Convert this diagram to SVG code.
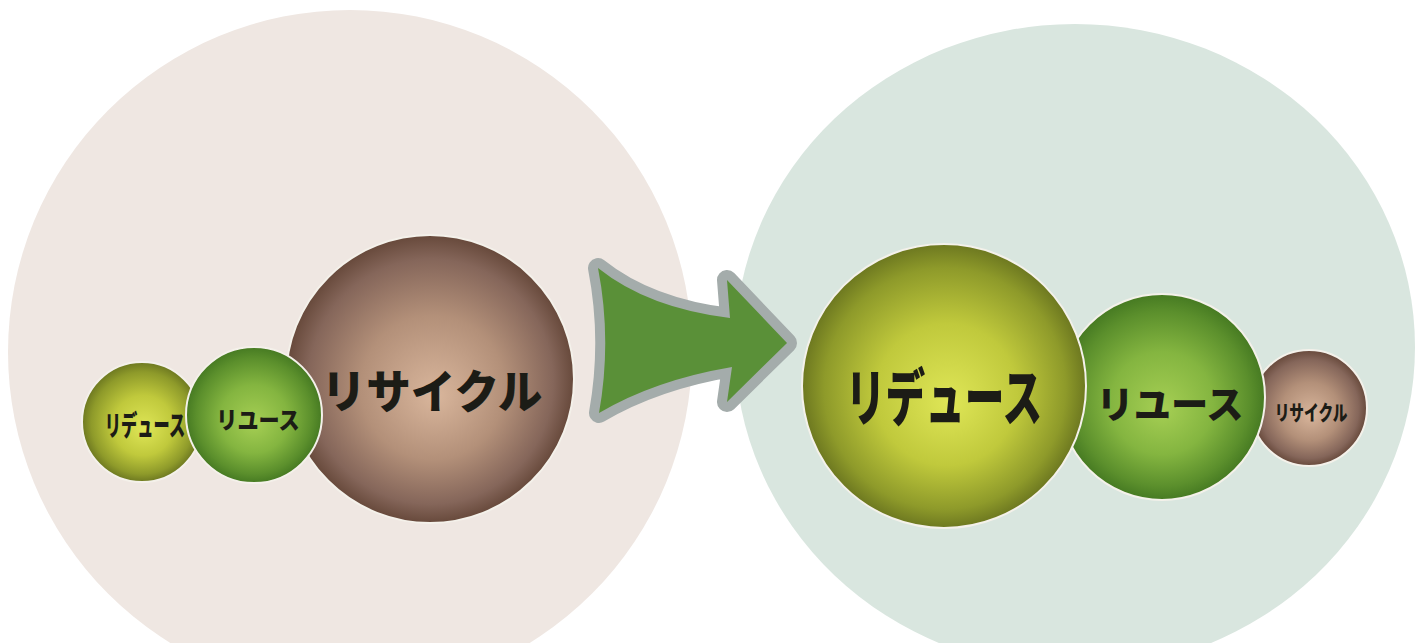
<svg xmlns="http://www.w3.org/2000/svg" width="1424" height="643" viewBox="0 0 1424 643">
<defs>
<style>
.lbl{font-family:"Noto Sans CJK JP","Noto Sans CJK SC",sans-serif;font-weight:900;fill:#1c1c16;text-anchor:middle;dominant-baseline:central}
.sph{stroke:#f4f1ea;stroke-width:2}
</style>
<radialGradient id="gYel" cx="0.5" cy="0.5" r="0.5" fx="0.52" fy="0.56">
<stop offset="0" stop-color="#dfe657"/>
<stop offset="0.5" stop-color="#c0c93c"/>
<stop offset="0.85" stop-color="#8e9a2a"/>
<stop offset="1" stop-color="#6d7820"/>
</radialGradient>
<radialGradient id="gGrn" cx="0.5" cy="0.5" r="0.5" fx="0.5" fy="0.56">
<stop offset="0" stop-color="#a6cf54"/>
<stop offset="0.5" stop-color="#84b540"/>
<stop offset="0.85" stop-color="#5b8f2c"/>
<stop offset="1" stop-color="#467a22"/>
</radialGradient>
<radialGradient id="gBrn" cx="0.5" cy="0.5" r="0.5" fx="0.52" fy="0.56">
<stop offset="0" stop-color="#d9b69c"/>
<stop offset="0.5" stop-color="#b39079"/>
<stop offset="0.85" stop-color="#85665a"/>
<stop offset="1" stop-color="#67493b"/>
</radialGradient>
</defs>
<rect width="1424" height="643" fill="#ffffff"/>
<g id="background">
<circle cx="350" cy="352" r="342" fill="#efe7e2"/>
<ellipse cx="1075" cy="347" rx="340" ry="323" fill="#d9e6df"/>
</g>
<g id="connectors">
<path id="arrow" d="M598,268 Q648,308 730,318 L727,280 L787,343 L727,402 L732,367 Q655,380 599,413 Q612,340 598,268 Z" fill="#5a9038" stroke="#a4acab" stroke-width="20" stroke-linejoin="round" paint-order="stroke"/>
</g>
<g id="before">
<g id="before-recycle">
<circle class="sph" cx="430" cy="379" r="144" fill="url(#gBrn)"/>
<text class="lbl" transform="translate(432,388) scale(0.97,1)" font-size="46">リサイクル</text>
</g>
<g id="before-reduce">
<circle class="sph" cx="142" cy="422" r="60" fill="url(#gYel)"/>
<text class="lbl" transform="translate(145,424) scale(0.58,1)" font-size="28">リデュース</text>
</g>
<g id="before-reuse">
<circle class="sph" cx="254" cy="415" r="68" fill="url(#gGrn)"/>
<text class="lbl" transform="translate(258,419) scale(0.88,1)" font-size="24">リユース</text>
</g>
</g>
<g id="after">
<g id="after-recycle">
<circle class="sph" cx="1309" cy="408" r="58" fill="url(#gBrn)"/>
<text class="lbl" transform="translate(1311,411) scale(0.7,1)" font-size="21">リサイクル</text>
</g>
<g id="after-reuse">
<circle class="sph" cx="1162" cy="397" r="103" fill="url(#gGrn)"/>
<text class="lbl" transform="translate(1170,401) scale(0.98,1)" font-size="38">リユース</text>
</g>
<g id="after-reduce">
<circle class="sph" cx="944" cy="386" r="142" fill="url(#gYel)"/>
<text class="lbl" transform="translate(944,394) scale(0.64,1)" font-size="62">リデュース</text>
</g>
</g>
</svg>
